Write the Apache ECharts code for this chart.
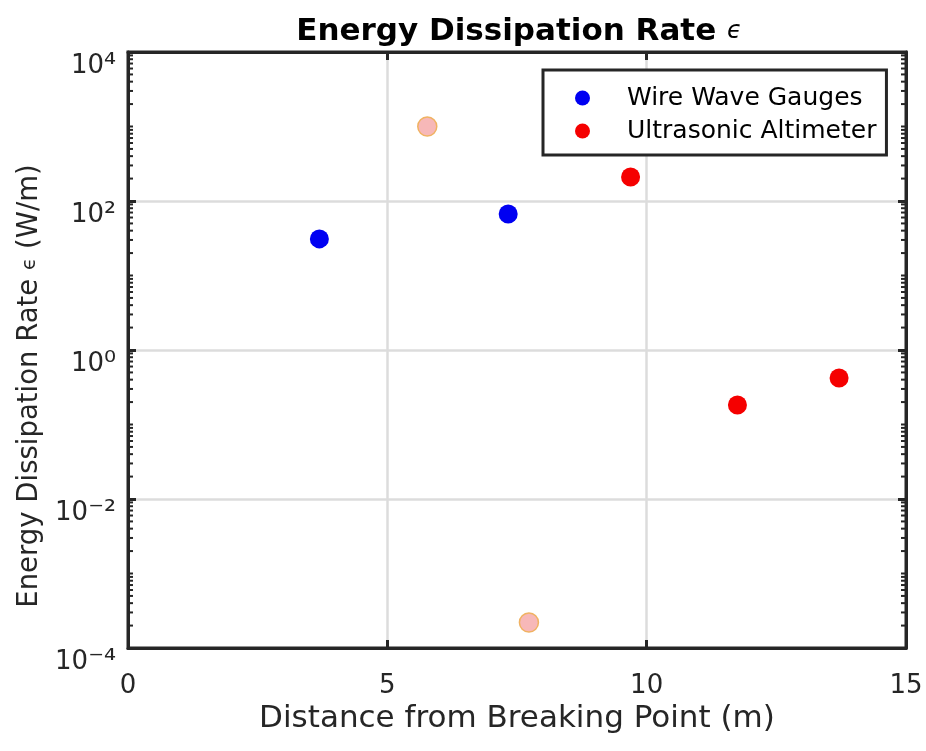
<!DOCTYPE html>
<html>
<head>
<meta charset="utf-8">
<script src="https://cdn.jsdelivr.net/npm/echarts@6/dist/echarts.min.js"></script>
<style>
html,body{margin:0;padding:0;background:#fff;}
#chart{width:926px;height:751px;}
</style>
</head>
<body>
<div id="chart"></div>
<script>
// ---- data ----
const wireX = [3.69, 7.33];
const wireY = [31, 67];
const ultraX = [9.69, 11.75, 13.71];
const ultraY = [210, 0.183, 0.42];
const outlierX = [5.77, 7.73];
const outlierY = [1000, 0.00022];
const xTicks = [0, 5, 10, 15];
const yTickExponents = [-4, -2, 0, 2, 4];

// log-axis minor tick positions (axis decoration)
const minorTickValues = [];
for (let n = -4; n < 4; n++) {
  for (let k = (n % 2 === 0 ? 2 : 1); k <= 9; k++) minorTickValues.push(k * Math.pow(10, n));
}

const SUP = { '-': '⁻', '0': '⁰', '1': '¹', '2': '²', '3': '³', '4': '⁴', '5': '⁵', '6': '⁶', '7': '⁷', '8': '⁸', '9': '⁹' };
const toSup = s => String(s).split('').map(c => SUP[c] || c).join('');

const FONT = 'DejaVu Sans';
const INK = '#262626';
const GRIDC = '#dcdcdc';

const zip = (xs, ys) => xs.map((x, i) => [x, ys[i]]);

const chart = echarts.init(document.getElementById('chart'));
const option = {
  animation: false,
  backgroundColor: '#fff',
  title: {
    text: '{t|Energy Dissipation Rate }{e|ϵ}',
    left: 519,
    top: 16,
    padding: 0,
    textAlign: 'center',
    textStyle: {
      rich: {
        t: { fontFamily: FONT, fontSize: 31, fontWeight: 'bold', color: '#000' },
        e: { fontFamily: FONT, fontSize: 24, fontStyle: 'italic', fontWeight: 'normal', color: '#000' }
      }
    }
  },
  legend: {
    data: ['Wire Wave Gauges', 'Ultrasonic Altimeter'],
    orient: 'vertical',
    left: 543,
    top: 70,
    padding: [14, 10, 10, 32],
    itemWidth: 15,
    itemHeight: 15,
    itemGap: 5,
    backgroundColor: '#fff',
    borderColor: INK,
    borderWidth: 3,
    textStyle: { fontFamily: FONT, fontSize: 25, color: '#000', lineHeight: 28, padding: [0, 0, 0, 32] }
  },
  grid: {
    left: 128, right: 20, top: 52, bottom: 103,
    show: true, borderColor: INK, borderWidth: 3, backgroundColor: '#fff'
  },
  xAxis: [{
    type: 'value', min: xTicks[0], max: xTicks[xTicks.length - 1], interval: 5,
    name: 'Distance from Breaking Point (m)',
    nameLocation: 'middle', nameGap: 55,
    nameTextStyle: { fontFamily: FONT, fontSize: 31, color: '#262626' },
    axisLine: { show: true, onZero: false, lineStyle: { color: INK, width: 3 } },
    axisTick: { show: true, inside: true, length: 8, lineStyle: { color: INK, width: 3 } },
    axisLabel: { fontFamily: FONT, fontSize: 26, color: '#262626', margin: 25 },
    splitLine: { show: true, lineStyle: { color: GRIDC, width: 2.5 } }
  }, {
    type: 'value', position: 'top', min: 0, max: 15, interval: 5,
    axisLine: { show: true, onZero: false, lineStyle: { color: INK, width: 3 } },
    axisTick: { show: true, inside: true, length: 8, lineStyle: { color: INK, width: 3 } },
    axisLabel: { show: false }, splitLine: { show: false }
  }],
  yAxis: [{
    type: 'log', logBase: 10, min: 1e-4, max: 1e4, interval: 2,
    name: '{n|Energy Dissipation Rate }{e|ϵ}{n| (W/m)}',
    nameLocation: 'middle', nameGap: 80,
    nameTextStyle: {
      padding: [0, 72, 0, 0],
      rich: {
        n: { fontFamily: FONT, fontSize: 27.5, color: '#262626' },
        e: { fontFamily: FONT, fontSize: 20, color: '#262626' }
      }
    },
    axisLine: { show: true, onZero: false, lineStyle: { color: INK, width: 3 } },
    axisTick: { show: true, inside: true, length: 8, lineStyle: { color: INK, width: 3 } },
    axisLabel: {
      margin: 12,
      padding: [28, 0, 0, 0],
      formatter: function (v) {
        const e = Math.round(Math.log10(v));
        return '{b|10}{s|' + toSup(e) + '}';
      },
      rich: {
        b: { fontFamily: FONT, fontSize: 26, color: '#262626' },
        s: { fontFamily: FONT, fontSize: 30, color: '#262626' }
      }
    },
    splitLine: { show: true, lineStyle: { color: GRIDC, width: 2.5 } }
  }, {
    type: 'log', logBase: 10, min: 1e-4, max: 1e4, interval: 2, position: 'right',
    axisLine: { show: true, onZero: false, lineStyle: { color: INK, width: 3 } },
    axisTick: { show: true, inside: true, length: 8, lineStyle: { color: INK, width: 3 } },
    axisLabel: { show: false }, splitLine: { show: false }
  }],
  series: [{
    type: 'custom',
    name: 'minorTicks',
    silent: true,
    clip: false,
    z: 5,
    encode: { y: 0 },
    data: minorTickValues.map(v => [v]),
    renderItem: function (params, api) {
      const v = api.value(0);
      const pl = api.coord([0, v]);
      const pr = api.coord([15, v]);
      return {
        type: 'group',
        children: [
          { type: 'line', shape: { x1: pl[0], y1: pl[1], x2: pl[0] + 5, y2: pl[1] }, style: { stroke: INK, lineWidth: 2 } },
          { type: 'line', shape: { x1: pr[0], y1: pr[1], x2: pr[0] - 5, y2: pr[1] }, style: { stroke: INK, lineWidth: 2 } }
        ]
      };
    }
  }, {
    type: 'scatter', name: 'Wire Wave Gauges',
    data: zip(wireX, wireY), symbol: 'circle', symbolSize: 19,
    itemStyle: { color: '#0000f2', opacity: 1 }, z: 3
  }, {
    type: 'scatter', name: 'Ultrasonic Altimeter',
    data: zip(ultraX, ultraY), symbol: 'circle', symbolSize: 19,
    itemStyle: { color: '#f50000', opacity: 1 }, z: 3
  }, {
    type: 'scatter', name: 'excluded',
    data: zip(outlierX, outlierY), symbol: 'circle', symbolSize: 19,
    itemStyle: { color: '#f7b8b8', borderColor: '#f0b262', borderWidth: 1.5, opacity: 1 }, z: 3
  }]
};
chart.setOption(option);
</script>
</body>
</html>
